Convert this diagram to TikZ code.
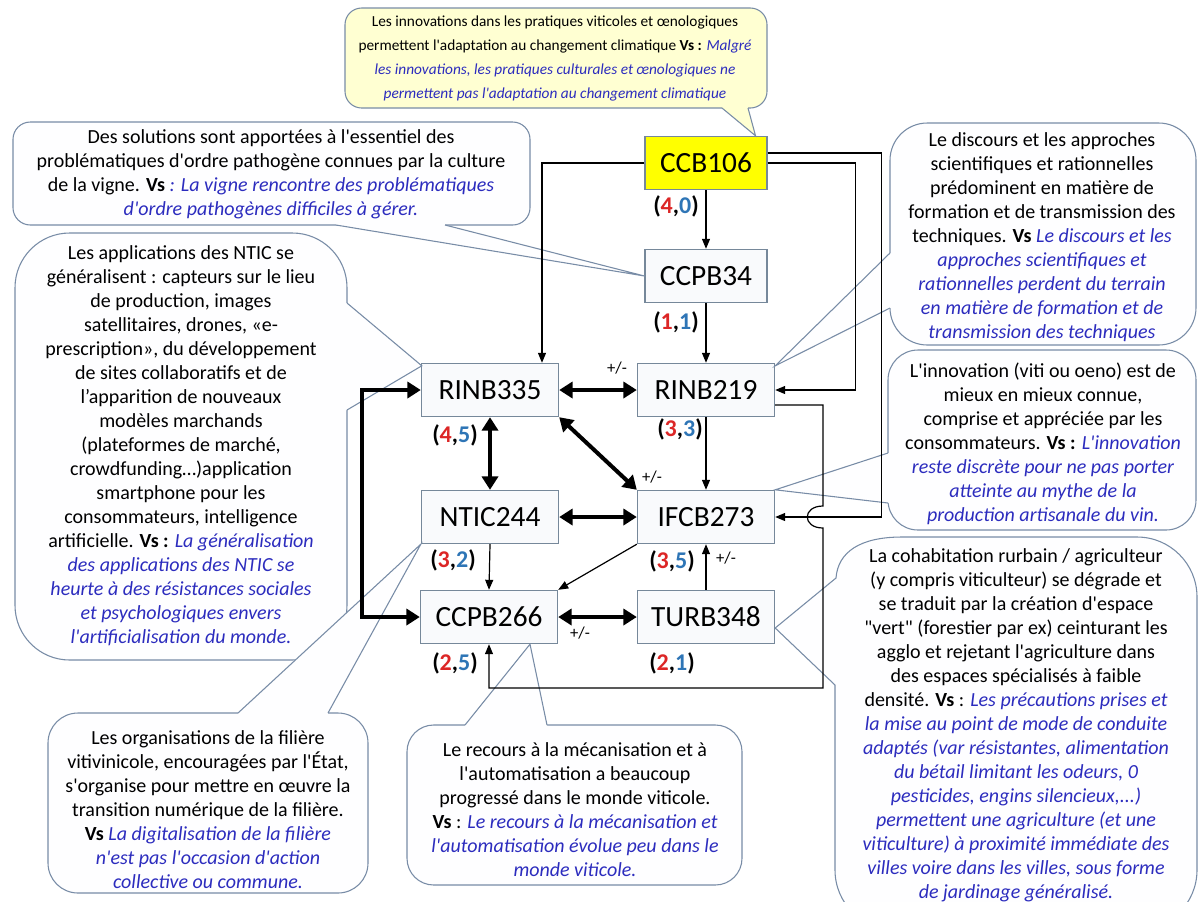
\documentclass[tikz,border=0pt]{standalone}
\usepackage{fontspec}
\setmainfont{Carlito}[Ligatures=TeXOff]
\usetikzlibrary{arrows.meta,calc}
\definecolor{vsblue}{RGB}{44,44,190}
\definecolor{numred}{RGB}{220,38,38}
\definecolor{numblue}{RGB}{46,117,182}
\definecolor{boxline}{RGB}{118,136,154}
\definecolor{callline}{RGB}{120,140,166}
\definecolor{boxfill}{RGB}{249,250,252}
\definecolor{callfill}{RGB}{254,254,255}
\definecolor{topfill}{RGB}{255,255,210}
\definecolor{ccbyellow}{RGB}{255,255,0}
\newcommand{\vsi}[1]{{\color{vsblue}\itshape #1}}
\newcommand{\pair}[2]{\textbf{(\textcolor{numred}{#1},\textcolor{numblue}{#2})}}
\newcommand{\callbox}[8]{%
  \draw[draw=callline,fill=#1,line width=0.8pt,rounded corners=#4] #2 rectangle #3;
  \fill[#1] #5 -- #6 -- #7 -- ($#7+#8$) -- ($#5+#8$) -- cycle;
  \draw[draw=callline,line width=0.8pt] #5 -- #6 -- #7;}
\begin{document}
\begin{tikzpicture}[x=0.75pt,y=-0.75pt,
  box/.style={draw=boxline,fill=boxfill,line width=0.8pt,minimum width=103pt,minimum height=40pt,inner sep=0pt,font=\fontsize{22}{26}\selectfont},
  lab/.style={inner sep=0pt,font=\fontsize{18}{20}\selectfont},
  pm/.style={inner sep=0pt,font=\fontsize{12.5}{14}\selectfont},
  ctext/.style={align=center,inner sep=0pt,font=\fontsize{15}{18}\selectfont},
  toptext/.style={align=center,inner sep=0pt,font=\fontsize{11.5}{18}\selectfont},
  sgl/.style={draw=black,line width=0.9pt,-{Triangle[length=7.5pt,width=6pt]}},
  dbl/.style={draw=black,line width=3pt,{Triangle[length=10pt,width=12pt]}-{Triangle[length=10pt,width=12pt]}},
]
\useasboundingbox (0,0) rectangle (1203,901);
\fill[white] (0,0) rectangle (1203,901);
\clip (0,0) rectangle (1203,901);

% ---------- boxes
\node[box,fill=ccbyellow,minimum width=91.5pt] (ccb106) at (706,163) {CCB106};
\node[box,minimum width=91.5pt] (ccpb34) at (706,276) {CCPB34};
\node[box] (rinb335) at (490,390) {RINB335};
\node[box] (rinb219) at (706,390) {RINB219};
\node[box] (ntic244) at (490,517) {NTIC244};
\node[box] (ifcb273) at (706,517) {IFCB273};
\node[box] (ccpb266) at (489,617) {CCPB266};
\node[box] (turb348) at (706,617) {TURB348};

% ---------- callouts
\callbox{topfill}{(345,8)}{(767,108)}{12.5pt}{(722,108)}{($(ccb106.north east)+(-12,0)$)}{(748,108)}{(0,-3)}
\callbox{callfill}{(13,122)}{(530,225)}{13pt}{(336,225)}{(ccpb34.west)}{(445,225)}{(0,-3)}
\callbox{callfill}{(15,233)}{(347,660)}{41pt}{(347,303)}{($(rinb335.north west)+(1,3)$)}{(347,410)}{(-3,0)}
\callbox{callfill}{(48,713)}{(368,893)}{22.5pt}{(238,713)}{(ntic244.south west)}{(328,713)}{(0,3)}
\callbox{callfill}{(407,725)}{(742,885)}{20pt}{(465,725)}{($(ccpb266.south)+(41,0)$)}{(547,725)}{(0,3)}
\callbox{callfill}{(890,123)}{(1196,345)}{28pt}{(890,253)}{($(rinb219.north east)+(0,3)$)}{(890,308)}{(3,0)}
\callbox{callfill}{(888,350)}{(1196,530)}{22.5pt}{(888,453)}{(ifcb273.north east)}{(888,503)}{(3,0)}
\coordinate (c8b2) at (835,685);
\draw[draw=callline,fill=callfill,line width=0.8pt]
  (c8b2) -- ($(turb348.east)+(0,11)$) -- (836,578) .. controls (838,552) and (860,537) .. (902,537)
  [rounded corners=45pt] -- (1197,537) -- (1197,930) -- (835,930) [sharp corners] -- cycle;

% ---------- callout texts
\node[toptext] (t1) at (555,58) {Les innovations dans les pratiques viticoles et œnologiques\\
permettent  l'adaptation au changement climatique \textbf{Vs :} \vsi{Malgré}\\
\vsi{les innovations, les pratiques culturales et œnologiques ne}\\
\vsi{permettent pas l'adaptation au changement climatique}};
\node[ctext] (t2) at (271,174) {Des solutions sont apportées à l'essentiel des\\
problématiques d'ordre pathogène connues par la culture\\
de la vigne. \textbf{Vs} \vsi{: La vigne rencontre des problématiques}\\
\vsi{d'ordre pathogènes difficiles à gérer.}};
\node[ctext] (t3) at (181,446) {Les applications des NTIC se\\
généralisent : capteurs sur le lieu\\
de production,  images\\
satellitaires, drones, «e-\\
prescription», du développement\\
de sites collaboratifs et de\\
l’apparition de nouveaux\\
modèles marchands\\
(plateformes de marché,\\
crowdfunding…)application\\
smartphone  pour  les\\
consommateurs,  intelligence\\
artificielle. \textbf{Vs :} \vsi{La généralisation}\\
\vsi{des applications des NTIC se}\\
\vsi{heurte à des résistances sociales}\\
\vsi{et psychologiques envers}\\
\vsi{l'artificialisation du monde.}};
\node[ctext] (t4) at (208,810) {Les organisations de la filière\\
vitivinicole, encouragées par l'État,\\
s'organise pour mettre en œuvre la\\
transition numérique  de la filière.\\
\textbf{Vs} \vsi{La digitalisation de la filière}\\
\vsi{n'est pas l'occasion d'action}\\
\vsi{collective ou commune.}};
\node[ctext] (t5) at (575,810) {Le recours à la mécanisation et à\\
l'automatisation a beaucoup\\
progressé dans le monde  viticole.\\
\textbf{Vs} : \vsi{Le recours à la mécanisation et}\\
\vsi{l'automatisation évolue peu dans le}\\
\vsi{monde viticole.}};
\node[ctext] (t6) at (1042,237) {Le discours et les approches\\
scientifiques et rationnelles\\
prédominent  en matière de\\
formation et de transmission des\\
techniques.  \textbf{Vs} \vsi{Le discours et les}\\
\vsi{approches scientifiques et}\\
\vsi{rationnelles perdent du terrain}\\
\vsi{en matière de formation et de}\\
\vsi{transmission des techniques}};
\node[ctext] (t7) at (1043,444) {L'innovation (viti ou oeno) est de\\
mieux en mieux connue,\\
comprise et appréciée par les\\
consommateurs. \textbf{Vs :} \vsi{L'innovation}\\
\vsi{reste discrète pour ne pas porter}\\
\vsi{atteinte au mythe de la}\\
\vsi{production artisanale du vin.}};
\node[ctext] (t8) at (1016,725) {La cohabitation rurbain / agriculteur\\
(y compris viticulteur) se dégrade et\\
se traduit par la création d'espace\\
"vert" (forestier par ex) ceinturant les\\
agglo et rejetant l'agriculture dans\\
des espaces spécialisés à faible\\
densité. \textbf{Vs} : \vsi{Les précautions prises et}\\
\vsi{la mise au point de mode de conduite}\\
\vsi{adaptés (var résistantes, alimentation}\\
\vsi{du bétail limitant les odeurs, 0}\\
\vsi{pesticides, engins silencieux,...)}\\
\vsi{permettent une agriculture (et une}\\
\vsi{viticulture) à proximité immédiate des}\\
\vsi{villes voire dans les villes, sous forme}\\
\vsi{de jardinage généralisé.}};

% ---------- connectors
\draw[sgl] (ccb106.south) -- (ccpb34.north);
\draw[sgl] (ccpb34.south) -- (rinb219.north);
\draw[sgl] (rinb219.south) -- (ifcb273.north);
\draw[sgl] (turb348.north) -- (ifcb273.south);
\draw[sgl] (ntic244.south) -- (ccpb266.north);
\draw[sgl] (ifcb273.south west) -- (ccpb266.north east);
\draw[sgl] (ccb106.west) -| ($(rinb335.north)+(52,0)$);
\draw[sgl] (ccb106.east) -| ($(rinb219.east)+(80,0)$) -- (rinb219.east);
\draw[sgl] ($(ccb106.east)+(0,-10)$) -| ($(ifcb273.east)+(106,0)$) -- (ifcb273.east);
\coordinate (r1) at (823,405);
\coordinate (jt) at (823,506);
\coordinate (jb) at (823,528);
\coordinate (r2) at (823,688);
\draw[sgl] ($(rinb219.east)+(0,15)$) -- (r1) -- (jt) .. controls (802,506) and (802,528) .. (jb) -- (r2) -| (ccpb266.south);

\draw[dbl] (rinb335.east) -- (rinb219.west);
\draw[dbl] (rinb335.south) -- (ntic244.north);
\draw[dbl] (rinb335.south east) -- (ifcb273.north west);
\draw[dbl] (ntic244.east) -- (ifcb273.west);
\draw[dbl] (ccpb266.east) -- (turb348.west);
\draw[dbl] (rinb335.west) -- ($(rinb335.west)+(-59,0)$) |- (ccpb266.west);

% ---------- labels
\node[lab] (l1) at (676,206) {\pair{4}{0}};
\node[lab] (l2) at (676,322) {\pair{1}{1}};
\node[lab] (l3) at (680,429) {\pair{3}{3}};
\node[lab] (l4) at (455,435) {\pair{4}{5}};
\node[lab] (l5) at (453,560) {\pair{3}{2}};
\node[lab] (l6) at (672,561) {\pair{3}{5}};
\node[lab] (l7) at (455,663) {\pair{2}{5}};
\node[lab] (l8) at (672,663) {\pair{2}{1}};
\node[pm] (p1) at (617,368) {+/-};
\node[pm] (p2) at (652,477) {+/-};
\node[pm] (p3) at (726,558) {+/-};
\node[pm] (p4) at (580,633) {+/-};
\end{tikzpicture}
\end{document}
